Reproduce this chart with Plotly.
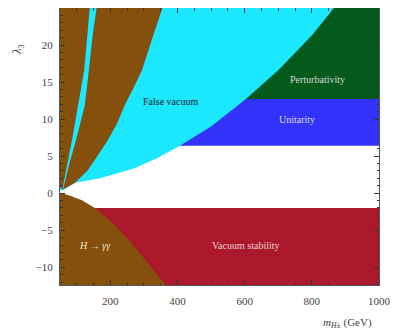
import plotly.graph_objects as go

# axes limits (m_H+ in GeV, lambda_3)
X_RANGE = [50, 1000]
Y_RANGE = [-12.4, 25.0]
X_TICKS = [200, 400, 600, 800, 1000]
Y_TICKS = [-10, -5, 0, 5, 10, 15, 20]

# horizontal exclusion bands
BAND_NAMES = ["Vacuum stability", "Unitarity", "Perturbativity"]
BAND_LOW = [-12.4, 6.4, 12.7]
BAND_HIGH = [-2.0, 12.7, 25.3]

# false-vacuum region: lower edge of the cyan area
FV_M = [58, 95, 169, 267, 339, 407, 500, 601, 700, 800, 871]
FV_L = [0.4, 1.4, 2.0, 3.3, 4.7, 6.4, 9.0, 12.6, 16.6, 21.3, 25.3]

# H -> gamma gamma, upper-left sliver (right edge)
HA_M = [57, 72, 86, 104, 122, 132, 139]
HA_L = [0.5, 4.0, 7.2, 11.9, 16.6, 21.6, 25.3]

# H -> gamma gamma, big wedge: left edge and right edge
HB_LEFT_M = [59, 78, 98, 124, 136, 148, 160]
HB_LEFT_L = [0.5, 4.0, 7.2, 11.9, 16.6, 21.6, 25.3]
HB_RIGHT_M = [59, 75, 95, 133, 160, 193, 220, 243, 270, 294, 325, 357]
HB_RIGHT_L = [0.5, 0.9, 1.4, 3.1, 4.9, 7.2, 9.4, 11.9, 14.3, 16.6, 20.9, 25.3]

# H -> gamma gamma, lower region (upper edge)
HC_M = [50, 56, 80, 115, 154, 210, 264, 312, 365]
HC_L = [0.0, 0.0, -0.35, -0.95, -2.0, -4.2, -6.8, -9.5, -12.4]

LABELS = ["False vacuum", "Perturbativity", "Unitarity", "Vacuum stability", "<i>H → γγ</i>"]
LABEL_M = [378, 818, 755, 604, 154]
LABEL_L = [12.4, 15.4, 10.0, -7.0, -7.0]
LABEL_COLORS = ["#1a1a1a", "#d8d8d8", "#dcdcf5", "#e8d0d0", "#f2e2c4"]

COLORS = {
    "brown": "#84500c",
    "cyan": "#1be7ff",
    "green": "#045a1b",
    "blue": "#3232fa",
    "red": "#ac182b",
}
BAND_COLORS = [COLORS["red"], COLORS["blue"], COLORS["green"]]

FONT = "Liberation Serif, DejaVu Serif, serif"


def _region(x, y, color):
    return go.Scatter(
        x=x, y=y, mode="lines", fill="toself", fillcolor=color,
        line=dict(width=0, color=color), hoverinfo="skip", showlegend=False,
    )


fig = go.Figure()

# bands
for lo, hi, c in zip(BAND_LOW, BAND_HIGH, BAND_COLORS):
    fig.add_trace(_region(
        [X_RANGE[0], X_RANGE[1], X_RANGE[1], X_RANGE[0]],
        [lo, lo, hi, hi], c,
    ))

# false vacuum
top = BAND_HIGH[-1]
fig.add_trace(_region(
    FV_M + [X_RANGE[0], X_RANGE[0]],
    FV_L + [top, FV_L[0]], COLORS["cyan"],
))

# H -> gamma gamma pieces
fig.add_trace(_region(
    [X_RANGE[0]] + HA_M + [X_RANGE[0]],
    [0.8] + HA_L + [top], COLORS["brown"],
))
fig.add_trace(_region(
    HB_LEFT_M + HB_RIGHT_M[::-1],
    HB_LEFT_L + HB_RIGHT_L[::-1], COLORS["brown"],
))
fig.add_trace(_region(
    HC_M + [X_RANGE[0]],
    HC_L + [Y_RANGE[0]], COLORS["brown"],
))

for txt, m, l, c in zip(LABELS, LABEL_M, LABEL_L, LABEL_COLORS):
    fig.add_annotation(x=m, y=l, text=txt, showarrow=False,
                       font=dict(family=FONT, size=10, color=c))

fig.add_annotation(xref="paper", yref="paper", x=0.985, y=-0.137,
                   xanchor="right", yanchor="middle", showarrow=False,
                   text="<i>m</i><sub><i>H</i>±</sub> (GeV)",
                   font=dict(family=FONT, size=11, color="#444"))
fig.add_annotation(xref="paper", yref="paper", x=-0.13, y=0.848,
                   xanchor="center", yanchor="middle", showarrow=False,
                   textangle=-90, text="<i>λ</i><sub>3</sub>",
                   font=dict(family=FONT, size=12, color="#444"))

axis_common = dict(
    showgrid=False, zeroline=False, showline=True, linecolor="#555", linewidth=1,
    mirror="allticks", ticks="inside", ticklen=5, tickcolor="#333", tickwidth=1,
    tickfont=dict(family=FONT, size=11, color="#444"), automargin=False,
)
fig.update_xaxes(range=X_RANGE, tickvals=X_TICKS, ticklabelstandoff=6,
                 minor=dict(ticks="inside", dtick=50, tick0=0, ticklen=2.5, tickcolor="#333"),
                 **axis_common)
fig.update_yaxes(range=Y_RANGE, tickvals=Y_TICKS, ticklabelstandoff=4,
                 minor=dict(ticks="inside", dtick=1, tick0=0, ticklen=2.5, tickcolor="#333"),
                 **axis_common)

fig.update_layout(
    width=391, height=328,
    margin=dict(l=52, r=20, t=0, b=51),
    paper_bgcolor="white", plot_bgcolor="white",
    font=dict(family=FONT, color="#444"),
)

fig.write_html("out.html")
